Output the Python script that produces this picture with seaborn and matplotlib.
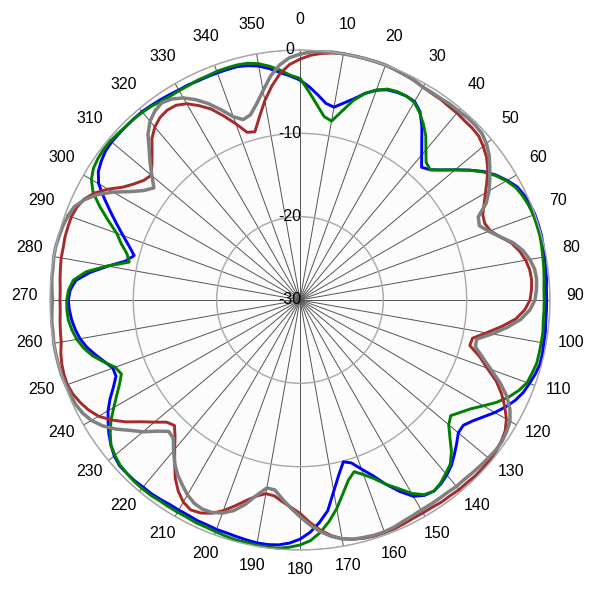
import numpy as np
import pandas as pd
import matplotlib
matplotlib.use("Agg")
import matplotlib.pyplot as plt
import matplotlib.transforms as mtransforms
import seaborn as sns

# angles in degrees (clockwise from top), one reading every 2.5 deg; gains in dB
angles = [i * 2.5 for i in range(144)]

blue = [-3.6, -4.4, -5.3, -6.2, -6.5, -5.8, -5.0, -4.0, -3.2, -2.7, -2.5, -2.4,
        -2.5, -3.2, -4.5, -6.0, -7.3, -8.4, -7.9, -6.9, -5.7, -4.4, -3.1, -2.1,
        -1.3, -0.6, -0.3, -0.1, 0.0, 0.0, 0.0, -0.1, -0.2, -0.3, -0.3, -0.4,
        -0.4, -0.4, -0.4, -0.3, -0.3, -0.2, -0.2, -0.4, -0.7, -1.0, -1.5, -2.2,
        -3.0, -3.9, -4.7, -5.3, -5.2, -4.5, -3.8, -3.1, -2.6, -2.2, -2.0, -2.2,
        -2.8, -4.1, -5.6, -7.2, -8.4, -9.5, -9.9, -8.5, -6.7, -4.5, -3.2, -2.1,
        -1.3, -0.8, -0.5, -0.4, -0.4, -0.5, -0.6, -0.7, -0.7, -0.8, -0.8, -0.9,
        -0.9, -0.9, -0.8, -0.7, -0.7, -0.6, -0.6, -0.6, -0.9, -1.4, -2.0, -2.7,
        -3.4, -4.3, -5.3, -6.1, -6.1, -5.4, -4.6, -3.8, -3.2, -2.8, -2.5, -2.3,
        -2.2, -2.4, -3.0, -4.6, -6.6, -8.5, -9.4, -8.5, -7.4, -6.2, -4.9, -3.5,
        -2.1, -1.3, -0.9, -0.6, -0.5, -0.5, -0.5, -0.5, -0.5, -0.6, -0.7, -0.8,
        -0.9, -0.9, -1.0, -1.0, -1.0, -1.0, -1.0, -1.2, -1.5, -2.0, -2.6, -3.1]

green = [-3.4, -5.0, -6.5, -7.8, -8.2, -6.8, -5.2, -4.0, -3.2, -2.6, -2.4, -2.4,
         -2.6, -3.3, -4.2, -5.2, -6.5, -7.6, -7.9, -6.9, -5.7, -4.4, -3.2, -2.2,
         -1.4, -0.8, -0.5, -0.3, -0.2, -0.2, -0.2, -0.3, -0.4, -0.5, -0.6, -0.7,
         -0.7, -0.7, -0.7, -0.6, -0.6, -0.6, -0.6, -0.8, -1.0, -1.6, -2.4, -3.4,
         -4.6, -5.7, -6.5, -7.2, -6.7, -5.6, -4.3, -3.3, -2.8, -2.3, -2.0, -2.3,
         -3.2, -4.5, -5.6, -6.8, -7.7, -8.4, -7.6, -6.2, -4.6, -3.2, -2.0, -1.1,
         -0.6, -0.3, -0.1, -0.1, -0.1, -0.2, -0.2, -0.3, -0.4, -0.5, -0.5, -0.6,
         -0.6, -0.6, -0.6, -0.5, -0.5, -0.5, -0.6, -0.7, -1.0, -1.4, -2.2, -3.1,
         -4.2, -5.2, -6.1, -6.8, -6.4, -5.3, -4.2, -3.4, -2.8, -2.4, -2.1, -2.0,
         -2.0, -2.2, -2.7, -4.1, -6.5, -9.0, -8.5, -7.5, -6.6, -5.1, -3.5, -2.0,
         -1.1, -0.6, -0.4, -0.3, -0.3, -0.4, -0.5, -0.5, -0.6, -0.7, -0.9, -1.0,
         -1.0, -1.0, -0.9, -0.9, -0.8, -0.8, -0.8, -0.9, -1.2, -1.7, -2.3, -3.0]

red = [-1.1, -0.6, -0.3, -0.1, 0.0, 0.0, 0.0, 0.0, 0.0, -0.1, -0.2, -0.3,
       -0.5, -0.6, -0.6, -0.7, -0.7, -0.8, -0.8, -0.9, -1.3, -1.8, -2.5, -3.4,
       -4.3, -5.1, -5.8, -6.0, -5.7, -4.8, -3.7, -3.0, -2.5, -2.2, -2.1, -2.2,
       -2.4, -3.0, -4.0, -5.6, -7.3, -8.8, -8.9, -7.4, -6.1, -4.5, -3.3, -2.3,
       -1.4, -0.8, -0.5, -0.3, -0.2, -0.2, -0.2, -0.3, -0.3, -0.4, -0.4, -0.5,
       -0.5, -0.5, -0.4, -0.3, -0.3, -0.3, -0.4, -0.6, -0.9, -1.5, -2.3, -3.3,
       -4.4, -5.1, -5.7, -6.3, -6.4, -5.9, -5.1, -4.1, -3.1, -2.3, -1.8, -1.6,
       -2.0, -2.8, -3.9, -5.3, -6.6, -7.8, -8.7, -8.3, -7.2, -6.0, -4.5, -3.2,
       -2.1, -1.4, -0.9, -0.5, -0.3, -0.3, -0.4, -0.6, -0.9, -1.0, -1.1, -1.2,
       -1.2, -1.2, -1.1, -1.0, -0.9, -0.9, -0.8, -0.8, -0.8, -1.0, -1.4, -2.2,
       -3.4, -4.8, -5.7, -6.4, -6.7, -5.9, -4.9, -3.7, -2.9, -2.4, -2.2, -2.3,
       -2.8, -3.7, -4.7, -6.1, -7.5, -8.9, -9.1, -7.5, -5.7, -4.1, -2.7, -1.7]

gray = [-0.5, -0.2, -0.1, 0.0, 0.0, 0.0, 0.0, 0.0, 0.0, -0.1, -0.2, -0.3,
        -0.5, -0.5, -0.5, -0.4, -0.4, -0.3, -0.3, -0.4, -0.8, -1.4, -2.2, -3.0,
        -3.8, -4.8, -6.4, -6.7, -5.9, -4.8, -3.5, -2.6, -2.0, -1.6, -1.5, -1.6,
        -1.8, -2.4, -3.4, -4.9, -6.6, -8.3, -8.2, -7.0, -5.6, -4.0, -2.6, -1.6,
        -0.9, -0.6, -0.4, -0.4, -0.5, -0.6, -0.7, -0.8, -0.8, -0.9, -0.9, -0.9,
        -0.9, -0.8, -0.7, -0.5, -0.4, -0.4, -0.5, -0.6, -0.9, -1.4, -2.1, -3.0,
        -4.0, -5.0, -6.0, -7.0, -7.1, -6.0, -4.6, -3.5, -2.8, -2.4, -2.3, -2.5,
        -3.0, -3.7, -4.4, -5.3, -6.4, -7.5, -7.7, -6.7, -5.4, -4.3, -3.0, -1.9,
        -1.1, -0.6, -0.3, -0.2, -0.1, 0.0, 0.0, 0.0, 0.0, -0.1, -0.1, -0.2,
        -0.3, -0.2, -0.1, -0.1, 0.0, 0.0, -0.1, -0.2, -0.4, -0.7, -1.5, -2.6,
        -4.1, -5.8, -7.1, -7.9, -6.8, -5.6, -4.4, -3.0, -2.0, -1.4, -1.1, -1.4,
        -2.0, -2.9, -4.0, -5.3, -6.6, -7.3, -7.0, -5.9, -4.5, -2.9, -1.7, -0.9]

series_names = ["blue", "green", "red", "gray"]
series_colors = ["#0000ff", "#008000", "#a52a2a", "#808080"]
series_widths = [2.1, 2.1, 2.1, 2.5]

r_ticks = [-30, -20, -10, 0]
r_labels = ["-30", "-20", "-10", "0"]
theta_ticks = list(range(0, 360, 10))


def main():
    sns.set_style("white")
    plt.rcParams['font.family'] = ['Liberation Sans', 'DejaVu Sans']

    fig = plt.figure(figsize=(6, 6), dpi=100)
    ax = fig.add_axes([50 / 600, 50 / 600, 500 / 600, 500 / 600], projection='polar')
    ax.set_theta_zero_location('N')
    ax.set_theta_direction(-1)
    ax.set_facecolor('#fcfcfc')

    frames = []
    for name, vals in zip(series_names, [blue, green, red, gray]):
        th = np.radians(angles + [360])
        frames.append(pd.DataFrame({'theta': th, 'gain': vals + [vals[0]], 'series': name}))
    df = pd.concat(frames, ignore_index=True)

    for name, col, lw in zip(series_names, series_colors, series_widths):
        sub = df[df['series'] == name]
        sns.lineplot(data=sub, x='theta', y='gain', ax=ax, color=col, linewidth=lw,
                     sort=False, estimator=None, legend=False)
    for line in ax.lines:
        line.set_clip_on(False)
        line.set_solid_joinstyle('round')

    ax.set_ylim(-30, 0)
    ax.set_yticks(r_ticks)
    ax.set_yticklabels([])
    ax.set_xticks(np.radians(theta_ticks))
    ax.set_xticklabels([])
    ax.tick_params(axis='both', length=0)
    ax.set_xlabel('')
    ax.set_ylabel('')

    ax.xaxis.grid(True, color='#555555', linewidth=0.7)
    ax.yaxis.grid(True, color='#a8a8a8', linewidth=1.0)
    ax.spines['polar'].set_color('#a8a8a8')
    ax.spines['polar'].set_linewidth(1.0)

    # angle labels, placed on a ring around the plot
    for t in theta_ticks:
        a = np.radians(t)
        tr = mtransforms.offset_copy(ax.transData, fig=fig, x=275 * np.sin(a),
                                     y=275 * np.cos(a) + 5, units='dots')
        ax.text(0, -30, str(t), transform=tr, ha='center', va='center',
                fontsize=11.5, color='black', clip_on=False)

    # radial labels along the 0 deg spoke
    shift = mtransforms.offset_copy(ax.transData, fig=fig, x=-10, y=0, units='dots')
    for r, lab in zip(r_ticks, r_labels):
        ax.text(0, r, lab, transform=shift, ha='center', va='center',
                fontsize=11.5, color='black')

    fig.savefig('out.png', dpi=100)
    plt.close(fig)


if __name__ == "__main__":
    main()
